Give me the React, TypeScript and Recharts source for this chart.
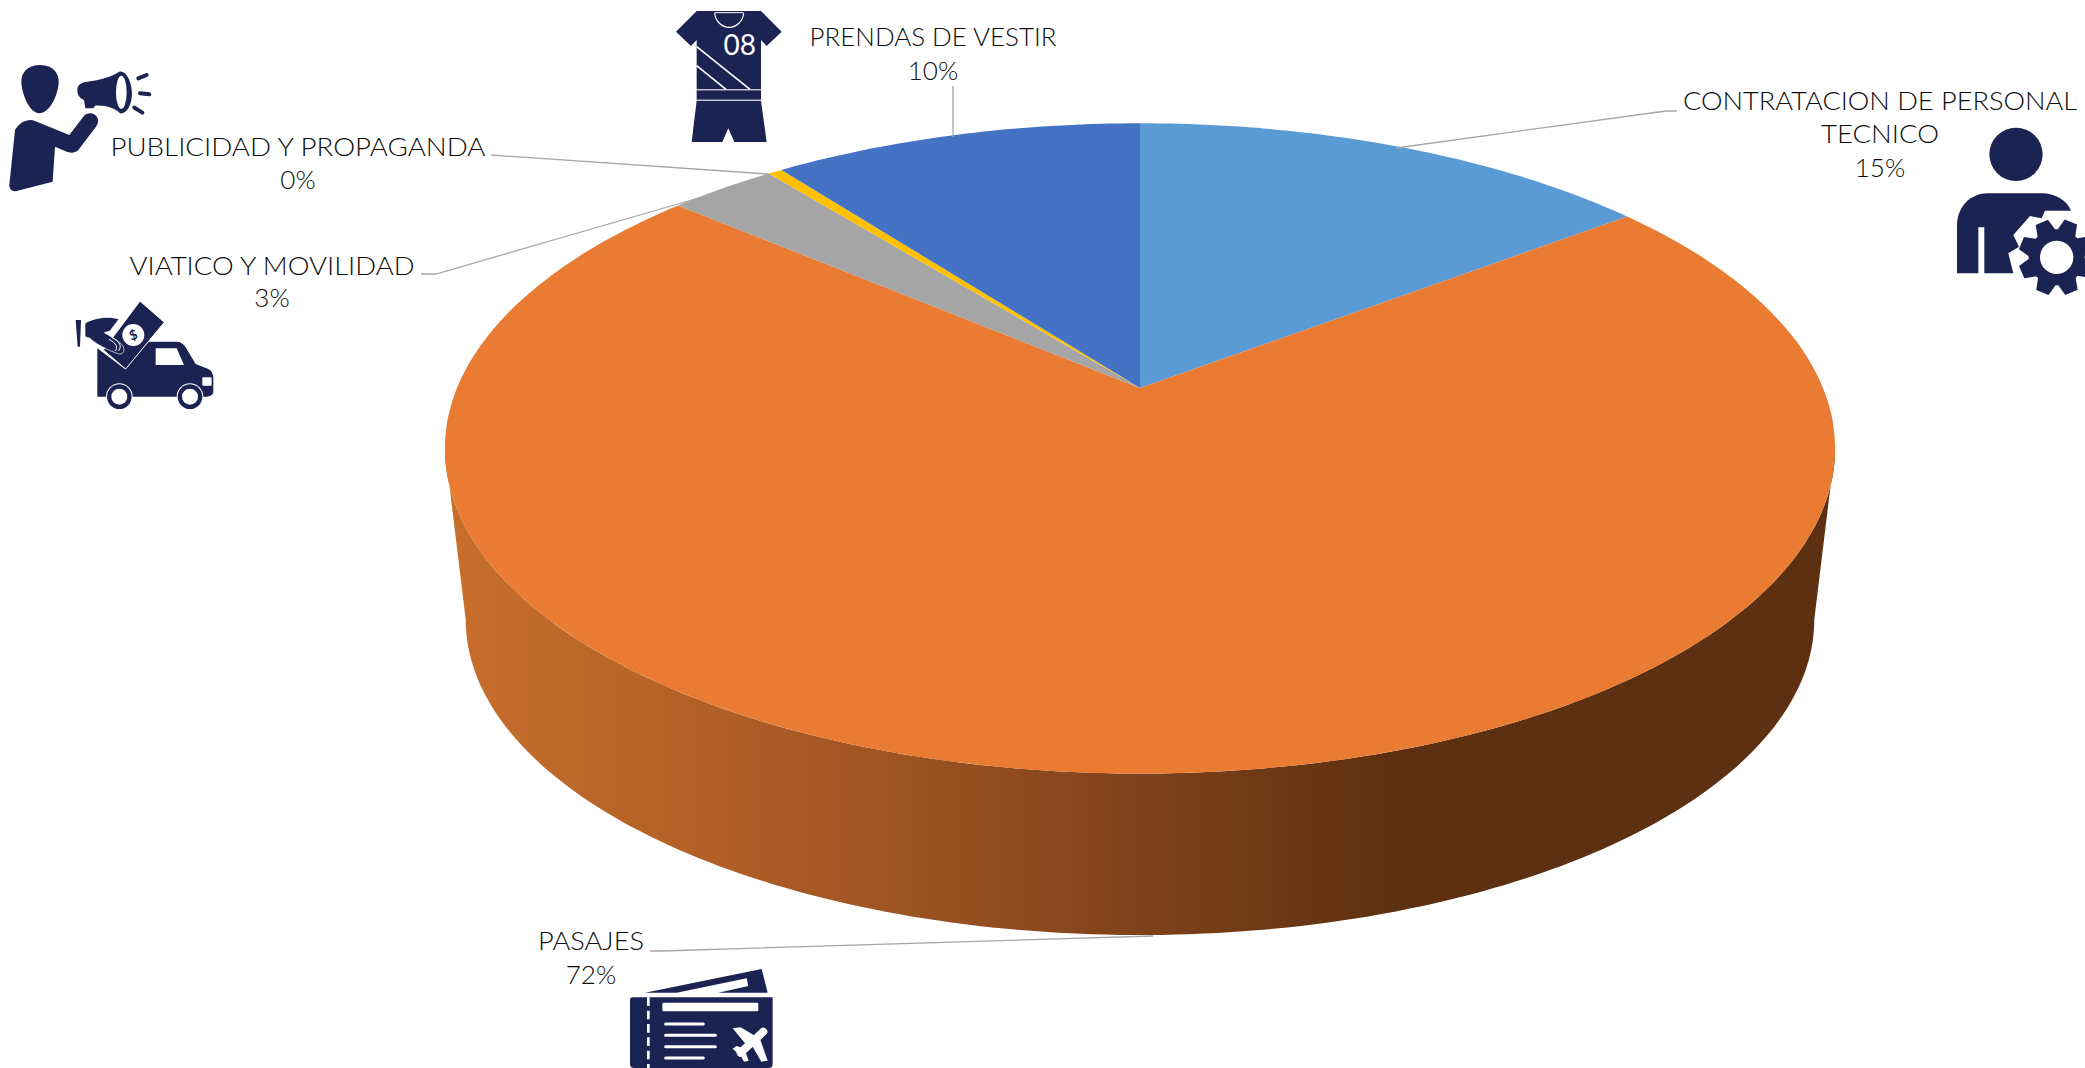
import React from 'react';
import { PieChart, Pie, Cell } from 'recharts';

const categories = [
  'CONTRATACION DE PERSONAL TECNICO',
  'PASAJES',
  'VIATICO Y MOVILIDAD',
  'PUBLICIDAD Y PROPAGANDA',
  'PRENDAS DE VESTIR'
];
const amounts = [14.6, 71.7, 3.0, 0.4, 10.3];
const sliceColors = ['#5B9BD5', '#EA7B32', '#A5A5A5', '#FFC000', '#4472C4'];

const chartData = categories.map((name, i) => ({ name, value: amounts[i] }));

const NAVY = '#1B2353';
const LABEL_COLOR = '#0D0D0D';
const LEADER_COLOR = '#A6A6A6';

const CENTER_X = 1140;
const CENTER_Y = 388;
const RADIUS = 683;

// the pie is tilted: a circle seen in perspective, so the apex sits above the ellipse centre
const TILT = 0.4596;
const PERSPECTIVE = 0.1859;
const FLOOR_SCALE = 0.97;
const FLOOR_DROP = 173;
const FRONT_FROM = -10.7;
const FRONT_TO = -169.3;

const project = (deg: number, cx: number, cy: number, r: number) => {
  const rad = (deg * Math.PI) / 180;
  const div = 1 + PERSPECTIVE * Math.sin(rad);
  return {
    x: cx + (r * Math.cos(rad)) / div,
    y: cy - (r * TILT * Math.sin(rad)) / div
  };
};

const arcPoints = (from: number, to: number, cx: number, cy: number, r: number) => {
  const steps = Math.max(2, Math.ceil(Math.abs(from - to)));
  const pts = [];
  for (let i = 0; i <= steps; i++) {
    pts.push(project(from + ((to - from) * i) / steps, cx, cy, r));
  }
  return pts;
};

const toPath = (pts: Array<{ x: number; y: number }>) =>
  pts.map((p, i) => `${i === 0 ? 'M' : 'L'}${p.x.toFixed(1)} ${p.y.toFixed(1)}`).join(' ');

const TopSlice = (props: any) => {
  const { cx, cy, outerRadius, startAngle, endAngle, fill } = props;
  const d = `M${cx} ${cy} ${toPath(arcPoints(startAngle, endAngle, cx, cy, outerRadius)).replace('M', 'L')} Z`;
  return <path d={d} fill={fill} stroke="none" />;
};

const WallSlice = (props: any) => {
  const { cx, cy, outerRadius, startAngle, endAngle } = props;
  const from = Math.min(startAngle, FRONT_FROM);
  const to = Math.max(endAngle, FRONT_TO);
  if (from <= to) return null;
  const top = arcPoints(from, to, cx, cy, outerRadius);
  const floor = arcPoints(to, from, cx, cy + FLOOR_DROP, outerRadius * FLOOR_SCALE);
  const d = `${toPath(top)} ${toPath(floor).replace('M', 'L')} Z`;
  return <path d={d} fill="url(#wallShade)" stroke="none" />;
};

const labelLayout = [
  { x: 1880, y: [100, 133, 167], lines: ['CONTRATACION DE PERSONAL', 'TECNICO'], width: [394, 118], leader: '1677,111 1666,111 1396,148' },
  { x: 591, y: [940, 974], lines: ['PASAJES'], width: [106], leader: '650,951 662,951 1153,936' },
  { x: 272, y: [265, 297], lines: ['VIATICO Y MOVILIDAD'], width: [285], leader: '421,274 436,274 702,197' },
  { x: 298, y: [146, 179], lines: ['PUBLICIDAD Y PROPAGANDA'], width: [375], leader: '491,155 768,174' },
  { x: 933, y: [36, 70], lines: ['PRENDAS DE VESTIR'], width: [247], leader: '953,86 953,137' }
];

const SliceLabel = (props: any) => {
  const { index, percent } = props;
  const layout = labelLayout[index];
  const rows = [...layout.lines, `${Math.round(percent * 100)}%`];
  return (
    <g>
      <polyline points={layout.leader} fill="none" stroke={LEADER_COLOR} strokeWidth={1.3} />
      {rows.map((row, i) => (
        <text
          key={row}
          x={layout.x}
          y={layout.y[i]}
          textAnchor="middle"
          dominantBaseline="central"
          fontFamily="Lato, 'Open Sans', sans-serif"
          fontWeight={300}
          fontSize={26}
          fill={LABEL_COLOR}
          textLength={layout.width[i]}
          lengthAdjust="spacingAndGlyphs"
        >
          {row}
        </text>
      ))}
    </g>
  );
};

// icons are traced in 3x crop coordinates, hence the scale on each group
const MegaphoneIcon = () => (
  <g transform="translate(0 55) scale(0.3333)" fill={NAVY}>
    <path d="M120 30 C160 30 178 55 176 85 C172 130 145 175 118 175 C90 175 68 125 64 85 C62 50 85 30 120 30 Z" />
    <path d="M45 225 C60 200 85 190 105 198 L208 240 L250 185 C262 170 285 172 293 190 C297 200 293 208 288 215 L235 285 C225 295 210 295 195 288 L165 275 L158 380 L50 408 C38 410 28 405 28 390 Z" />
    <path d="M232 105 C232 88 245 82 262 80 C300 75 335 65 358 50 C380 45 396 85 396 115 C396 150 380 178 360 175 C345 160 320 150 285 152 L280 160 L256 160 L252 135 C240 130 232 120 232 105 Z" />
    <ellipse cx={364} cy={112} rx={16} ry={50} fill="#fff" />
    <g stroke={NAVY} strokeWidth={12} strokeLinecap="round">
      <line x1={415} y1={70} x2={440} y2={60} />
      <line x1={420} y1={115} x2={448} y2={118} />
      <line x1={403} y1={158} x2={427} y2={173} />
    </g>
  </g>
);

const JerseyIcon = () => (
  <g transform="translate(665 0) scale(0.3333)" fill={NAVY}>
    <path d="M95 33 L148 33 L237 33 L288 33 L350 95 L305 138 L288 120 L288 268 L95 268 L95 120 L78 138 L33 95 Z" />
    <path d="M149 38 C150 62 170 82 192 82 C215 82 235 62 236 38" fill="none" stroke="#fff" strokeWidth={3.5} />
    <line x1={150} y1={38} x2={235} y2={38} stroke="#fff" strokeWidth={3} />
    <text x={224} y={166} textAnchor="middle" fontFamily="Lato, sans-serif" fontWeight={400} fontSize={84} fill="#fff">
      08
    </text>
    <g stroke="#fff" strokeWidth={5}>
      <line x1={95} y1={140} x2={255} y2={268} />
      <line x1={95} y1={197} x2={183} y2={268} />
    </g>
    <rect x={95} y={271} width={193} height={28} />
    <path d="M95 302 L288 302 L305 426 L208 426 L190 385 L172 426 L80 426 Z" />
  </g>
);

const TruckIcon = () => (
  <g transform="translate(65 295) scale(0.3333)" fill={NAVY}>
    <path d="M97 160 L180 222 L250 140 L335 140 C350 140 360 150 370 170 L392 207 L430 222 C442 228 445 240 445 250 L445 290 C445 300 435 305 420 305 L97 305 L97 160 Z" />
    <path d="M272 160 L335 160 L357 210 L272 210 Z" fill="#fff" />
    <rect x={412} y={247} width={28} height={25} rx={3} fill="#fff" />
    {[163, 375].map(cx => (
      <g key={cx}>
        <circle cx={cx} cy={305} r={40} fill="#fff" />
        <circle cx={cx} cy={305} r={37} />
        <circle cx={cx} cy={305} r={24} fill="#fff" />
      </g>
    ))}
    <polygon points="225,18 298,82 182,222 115,165" stroke="#fff" strokeWidth={3} />
    <circle cx={205} cy={120} r={33} fill="#fff" />
    <text x={205} y={134} textAnchor="middle" fontFamily="Lato, sans-serif" fontWeight={700} fontSize={40} fill={NAVY} transform="rotate(-20 205 120)">
      $
    </text>
    <path d="M60 85 C85 68 130 62 162 72 L135 108 L118 113 L150 132 L172 150 C182 162 176 182 158 176 C130 165 95 150 75 130 L60 125 Z" stroke="#fff" strokeWidth={2} />
    <path d="M140 128 C165 138 172 155 160 168 M132 133 C155 145 160 158 150 168" fill="none" stroke="#fff" strokeWidth={3} />
    <polygon points="32,75 48,75 45,155 38,155" />
  </g>
);

const gearTeeth = [0, 45, 90, 135, 180, 225, 270, 315];

const TechnicianIcon = () => (
  <g transform="translate(1945 120) scale(0.3333)" fill={NAVY}>
    <circle cx={213} cy={103} r={80} />
    <path d="M36 460 L36 320 C36 260 75 220 130 220 L290 220 C330 220 365 240 378 272 L300 272 L290 295 L255 288 L205 345 L222 380 L190 400 L205 460 L118 460 L118 322 L100 322 L100 460 Z" />
    <circle cx={335} cy={412} r={84} />
    {gearTeeth.map(deg => (
      <polygon key={deg} points="305,340 315,298 355,298 365,340" transform={`rotate(${deg + 22} 335 412)`} />
    ))}
    <circle cx={335} cy={412} r={50} fill="#fff" />
  </g>
);

const TicketIcon = () => (
  <g transform="translate(620 960) scale(0.3333)" fill={NAVY}>
    <path d="M75 98 L425 27 L443 98 L295 98 L385 78 L380 55 L170 98 Z" />
    <path d="M30 120 Q30 112 38 112 L458 112 L458 312 Q458 324 446 324 L42 324 Q30 324 30 312 Z" />
    <line x1={85} y1={112} x2={85} y2={324} stroke="#fff" strokeWidth={8} strokeDasharray="26 14" />
    <rect x={127} y={128} width={288} height={26} rx={4} fill="#fff" />
    <g stroke="#fff" strokeWidth={9} strokeLinecap="round">
      <line x1={137} y1={192} x2={250} y2={192} />
      <line x1={137} y1={226} x2={286} y2={226} />
      <line x1={137} y1={260} x2={286} y2={260} />
      <line x1={137} y1={294} x2={250} y2={294} />
    </g>
    <g fill="#fff">
      <line x1={430} y1={215} x2={362} y2={278} stroke="#fff" strokeWidth={24} strokeLinecap="round" />
      <polygon points="338,205 362,202 412,232 382,258" />
      <polygon points="392,250 420,236 443,302 424,305" />
      <polygon points="338,266 350,258 378,268 360,286" />
      <polygon points="356,276 372,264 386,302 372,305" />
    </g>
  </g>
);

export default function App() {
  return (
    <div style={{ position: 'absolute', left: 0, top: 0, background: '#fff' }}>
      <PieChart width={2085} height={1068} margin={{ top: 0, right: 0, bottom: 0, left: 0 }}>
        <defs>
          <linearGradient id="wallShade" x1="0" y1="0" x2="1" y2="0">
            <stop offset="0" stopColor="#C96F2C" />
            <stop offset="0.29" stopColor="#A45724" />
            <stop offset="0.5" stopColor="#7F421A" />
            <stop offset="0.69" stopColor="#5C3011" />
            <stop offset="1" stopColor="#5C3011" />
          </linearGradient>
        </defs>
        <Pie
          data={chartData}
          dataKey="value"
          cx={CENTER_X}
          cy={CENTER_Y}
          outerRadius={RADIUS}
          startAngle={90}
          endAngle={-270}
          shape={WallSlice}
          stroke="none"
          isAnimationActive={false}
        />
        <Pie
          data={chartData}
          dataKey="value"
          cx={CENTER_X}
          cy={CENTER_Y}
          outerRadius={RADIUS}
          startAngle={90}
          endAngle={-270}
          shape={TopSlice}
          stroke="none"
          label={SliceLabel}
          labelLine={false}
          isAnimationActive={false}
        >
          {categories.map((name, i) => (
            <Cell key={name} fill={sliceColors[i]} />
          ))}
        </Pie>
        <MegaphoneIcon />
        <JerseyIcon />
        <TruckIcon />
        <TechnicianIcon />
        <TicketIcon />
      </PieChart>
    </div>
  );
}
